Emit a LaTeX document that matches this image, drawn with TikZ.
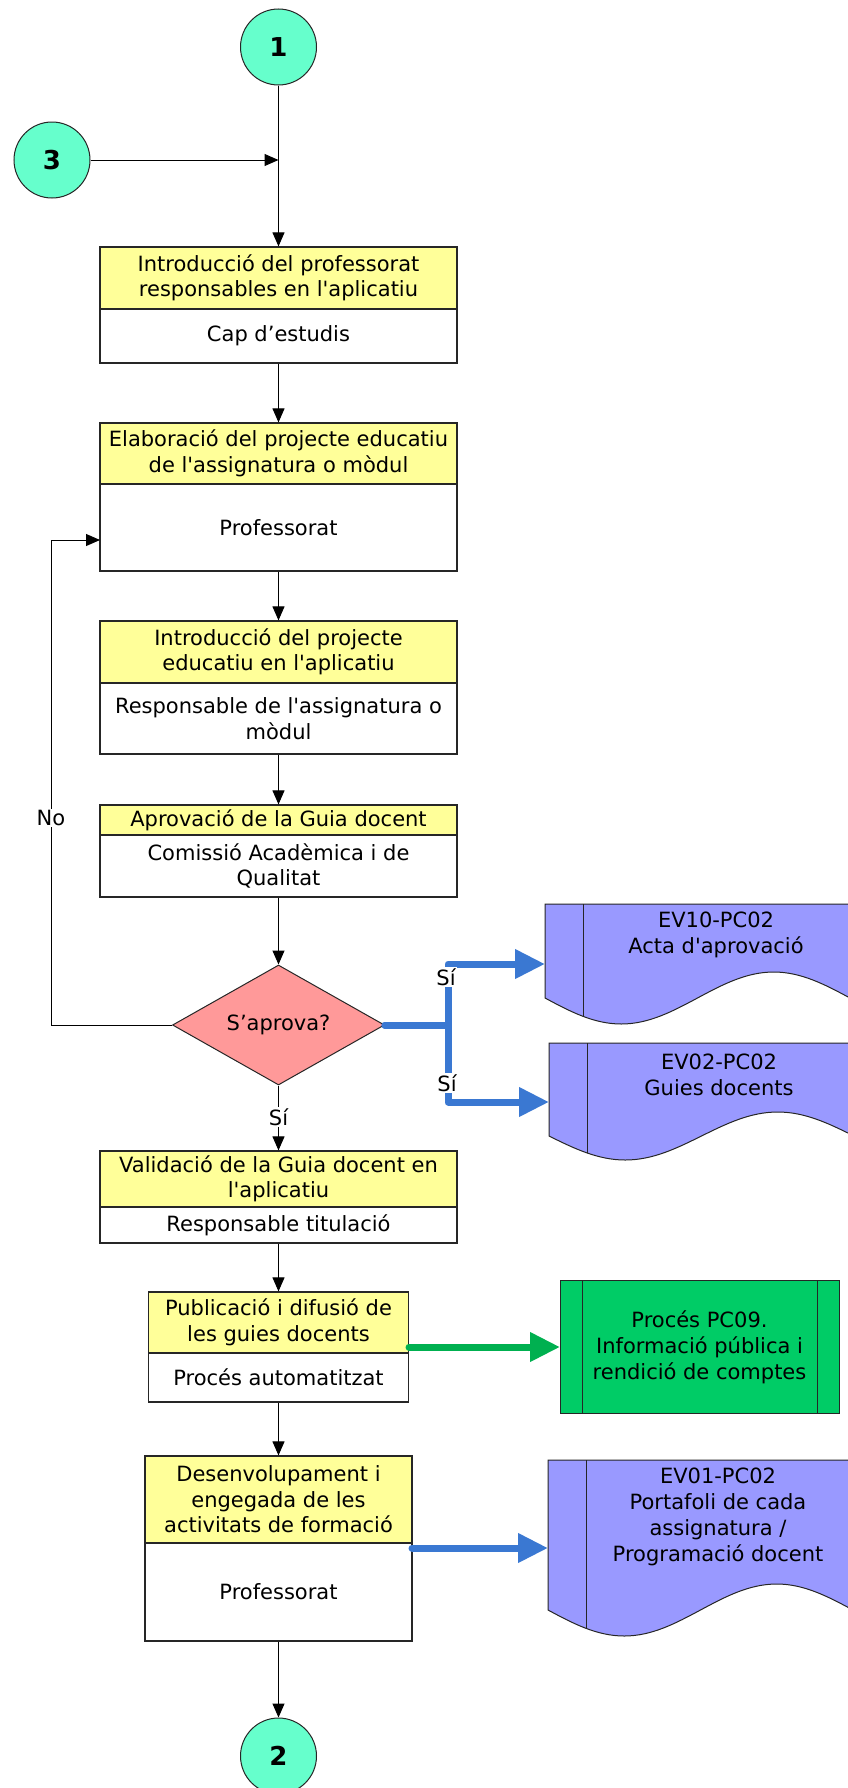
\documentclass[tikz,border=0pt]{standalone}
\usepackage{fontspec}
\setmainfont{DejaVu Sans}
\usetikzlibrary{arrows.meta,shapes.geometric}
\definecolor{boxyellow}{HTML}{FFFF99}
\definecolor{connteal}{HTML}{66FFCC}
\definecolor{diapink}{HTML}{FF9999}
\definecolor{docpurple}{HTML}{9999FF}
\definecolor{procgreen}{HTML}{00CC66}
\definecolor{arrowblue}{HTML}{3A78D2}
\definecolor{arrowgreen}{HTML}{00B050}
\newcommand{\aq}{\textquotesingle}
\newcommand{\docshape}[5]{%
  \begin{scope}
  \path[draw=black!85, line width=1pt, fill=docpurple] (#1,#2) -- (#1,#3) sin (#1+#5/4,#3+#4) cos (#1+#5/2,#3) sin (#1+3*#5/4,#3-#4) cos (#1+#5,#3) -- (#1+#5,#2) -- cycle;
  \clip (#1,#2) -- (#1,#3) sin (#1+#5/4,#3+#4) cos (#1+#5/2,#3) sin (#1+3*#5/4,#3-#4) cos (#1+#5,#3) -- (#1+#5,#2) -- cycle;
  \draw[line width=1pt, black!85] (#1+38,#2) -- (#1+38,#3+#4+10);
  \end{scope}}
\tikzset{
  txt/.style={font=\fontsize{21}{25.5}\selectfont, align=center, text=black},
  ybox/.style={draw=black!85, line width=1.2pt, fill=boxyellow, inner sep=0pt, txt},
  wbox/.style={draw=black!85, line width=1.2pt, fill=white, inner sep=0pt, txt},
  conncirc/.style={circle, draw=black!85, line width=1pt, fill=connteal, minimum size=76pt, inner sep=0pt, font=\fontsize{26}{30}\selectfont\bfseries},
  decision/.style={diamond, aspect=1.77, draw=black!85, line width=1pt, fill=diapink, minimum width=212pt, minimum height=120pt, inner sep=0pt, txt},
  conn/.style={draw=black, line width=1pt, -{Triangle[length=14pt,width=12pt]}},
  bluearrow/.style={draw=arrowblue, line width=7pt, line cap=round, line join=round, -{Triangle[length=30pt,width=28pt]}},
  greenarrow/.style={draw=arrowgreen, line width=7pt, line cap=round, -{Triangle[length=30pt,width=28pt]}},
  lbl/.style={fill=white, inner sep=1.5pt, font=\fontsize{21}{24}\selectfont},
  doctext/.style={txt, font=\fontsize{21}{26}\selectfont},
}
\begin{document}
\begin{tikzpicture}[x=1pt, y=-1pt]
\useasboundingbox (0,0) rectangle (848,1788);
\clip (0,0) rectangle (848,1788);

% connectors (circles)
\node[conncirc] (c1) at (278.5,47) {1};
\node[conncirc] (c3) at (52,160) {3};
\node[conncirc] (c2) at (278.5,1756) {2};

% boxes
\node[ybox, minimum width=357pt, minimum height=62pt] (y1) at (278.5,278) {Introducció del professorat\\responsables en l\aq aplicatiu};
\node[wbox, minimum width=357pt, minimum height=54pt] (w1) at (278.5,336) {Cap d’estudis};

\node[ybox, minimum width=357pt, minimum height=61pt] (y2) at (278.5,453.5) {Elaboració del projecte educatiu\\de l\aq assignatura o mòdul};
\node[wbox, minimum width=357pt, minimum height=87pt] (w2) at (278.5,527.5) {Professorat};

\node[ybox, minimum width=357pt, minimum height=62pt] (y3) at (278.5,652) {Introducció del projecte\\educatiu en l\aq aplicatiu};
\node[wbox, minimum width=357pt, minimum height=71pt] (w3) at (278.5,718.5) {Responsable de l\aq assignatura o\\mòdul};

\node[ybox, minimum width=357pt, minimum height=30pt] (y4) at (278.5,820) {Aprovació de la Guia docent};
\node[wbox, minimum width=357pt, minimum height=62pt] (w4) at (278.5,866) {Comissió Acadèmica i de\\Qualitat};

\node[decision] (dia) at (278.5,1025) {S’aprova?};

\node[ybox, minimum width=357pt, minimum height=56pt] (y5) at (278.5,1179) {Validació de la Guia docent en\\l\aq aplicatiu};
\node[wbox, minimum width=357pt, minimum height=36pt] (w5) at (278.5,1225) {Responsable titulació};

\node[ybox, minimum width=260pt, minimum height=61pt] (y6) at (278.5,1322.5) {Publicació i difusió de\\les guies docents};
\node[wbox, minimum width=260pt, minimum height=49pt] (w6) at (278.5,1377.5) {Procés automatitzat};

\node[ybox, minimum width=267pt, minimum height=87pt] (y7) at (278.5,1499.5) {Desenvolupament i\\engegada de les\\activitats de formació};
\node[wbox, minimum width=267pt, minimum height=98pt] (w7) at (278.5,1592) {Professorat};

% documents
\docshape{545}{904}{998}{26}{305}
\docshape{549}{1043}{1136}{24}{305}
\docshape{548}{1460}{1610}{26}{305}
\node[doctext] (d1) at (716,935) {EV10-PC02\\Acta d\aq aprovació};
\node[doctext] (d2) at (719,1074.5) {EV02-PC02\\Guies docents};
\node[doctext] (d3) at (718,1516.5) {EV01-PC02\\Portafoli de cada\\assignatura /\\Programació docent};

% green process box
\node[draw=black!85, line width=1pt, fill=procgreen, minimum width=279pt, minimum height=133pt, inner sep=0pt] (pg) at (699.5,1346.5) {};
\draw[line width=1pt, black!85] (582,1280) -- (582,1413);
\draw[line width=1pt, black!85] (817,1280) -- (817,1413);
\node[doctext] (pgt) at (699.5,1347) {Procés PC09.\\Informació pública i\\rendició de comptes};

% coordinates
\coordinate (join) at (278.5,160);
\coordinate (loopcorner) at (51,1025);
\coordinate (loopin) at (100,540);
\coordinate (d1w) at (545,964);
\coordinate (d2w) at (549,1102);
\coordinate (d3w) at (548,1548);
\coordinate (y6e) at (409,1347);
\coordinate (pgw) at (560,1347);
\coordinate (w7e) at (412,1548);

% black connectors
\draw[conn] (c1.south) -- (y1.north);
\draw[conn] (c3.east) -- (join);
\draw[conn] (w1.south) -- (y2.north);
\draw[conn] (w2.south) -- (y3.north);
\draw[conn] (w3.south) -- (y4.north);
\draw[conn] (w4.south) -- (dia.north);
\draw[conn] (dia.south) -- (y5.north);
\draw[conn] (w5.south) -- (y6.north);
\draw[conn] (w6.south) -- (y7.north);
\draw[conn] (w7.south) -- (c2.north);
\draw[conn] (dia.west) -- (loopcorner) |- (loopin);
\node[lbl] (lno) at (51,818) {No};
\node[lbl] (lsi) at (278.5,1117) {Sí};

% blue / green arrows
\draw[bluearrow] (dia.east) -- ++(63,0) |- (d1w);
\draw[bluearrow] (dia.east) -- ++(63,0) |- (d2w);
\node[lbl] (lsi1) at (446,977) {Sí};
\node[lbl] (lsi2) at (447,1083) {Sí};
\draw[greenarrow] (y6e) -- (pgw);
\draw[bluearrow] (w7e) -- (d3w);
\end{tikzpicture}
\end{document}
